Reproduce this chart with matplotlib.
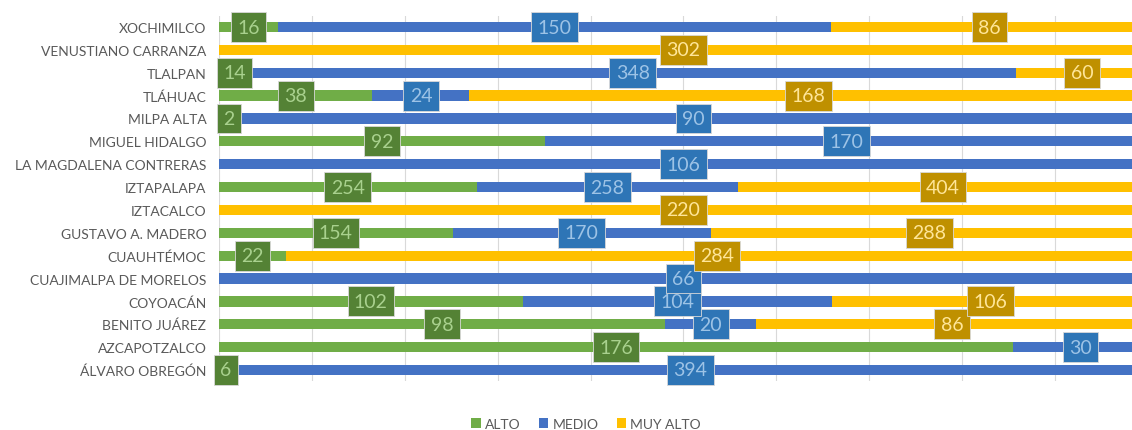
import matplotlib
matplotlib.use("Agg")
import matplotlib.pyplot as plt
import numpy as np

categories = ["ÁLVARO OBREGÓN", "AZCAPOTZALCO", "BENITO JUÁREZ", "COYOACÁN",
              "CUAJIMALPA DE MORELOS", "CUAUHTÉMOC", "GUSTAVO A. MADERO", "IZTACALCO",
              "IZTAPALAPA", "LA MAGDALENA CONTRERAS", "MIGUEL HIDALGO", "MILPA ALTA",
              "TLÁHUAC", "TLALPAN", "VENUSTIANO CARRANZA", "XOCHIMILCO"]
alto     = [6, 176, 98, 102, 0, 22, 154, 0, 254, 0, 92, 2, 38, 14, 0, 16]
medio    = [394, 30, 20, 104, 66, 0, 170, 0, 258, 106, 170, 90, 24, 348, 0, 150]
muy_alto = [0, 0, 86, 106, 0, 284, 288, 220, 404, 0, 0, 0, 168, 60, 302, 86]
series_names = ["ALTO", "MEDIO", "MUY ALTO"]

bar_colors = ["#70AD47", "#4472C4", "#FFC000"]
box_colors = ["#548235", "#2E75B6", "#BF9000"]
txt_colors = ["#A9D18E", "#9DC3E6", "#FFE699"]

plt.rcParams['font.family'] = ['Lato', 'DejaVu Sans']

fig = plt.figure(figsize=(11.32, 4.31), dpi=100)
ax = fig.add_axes([219/1132, 1 - 382.4/431, (1148 - 219)/1132, (382.4 - 16.6)/431])

data = np.array([alto, medio, muy_alto], dtype=float)
totals = data.sum(axis=0)
frac = data / totals
y = np.arange(len(categories))
left = np.zeros(len(categories))
handles = []
for i, name in enumerate(series_names):
    h = ax.barh(y, frac[i], left=left, height=0.45, color=bar_colors[i], label=name, zorder=2)
    handles.append(h)
    for j in range(len(categories)):
        v = data[i, j]
        if v > 0:
            cx = left[j] + frac[i, j] / 2
            ax.text(cx, y[j], f"{int(v)}", ha="center", va="center", fontsize=14,
                    color=txt_colors[i], zorder=4,
                    bbox=dict(boxstyle="square,pad=0.33", facecolor=box_colors[i],
                              edgecolor="#D9D9D9", linewidth=0.6))
    left = left + frac[i]

ax.set_xlim(0, 1)
ax.set_ylim(-0.5, len(categories) - 0.5)
ax.set_xticks(np.arange(0, 1.01, 0.1))
ax.tick_params(axis="x", length=0, labelbottom=False)
ax.xaxis.grid(True, color="#D9D9D9", linewidth=0.8, zorder=0)
ax.set_axisbelow(True)
ax.set_yticks(y)
ax.set_yticklabels(categories, fontsize=10, color="#595959")
ax.tick_params(axis="y", length=0, pad=9)
for s in ax.spines.values():
    s.set_visible(False)

fig.legend(handles=handles, labels=series_names, loc="center", bbox_to_anchor=(586/1132, 1 - 425/431),
           ncol=3, frameon=False, fontsize=10, labelcolor="#595959", handlelength=0.7,
           handleheight=0.7, handletextpad=0.3, columnspacing=1.3)

fig.savefig("out.png", dpi=100)
